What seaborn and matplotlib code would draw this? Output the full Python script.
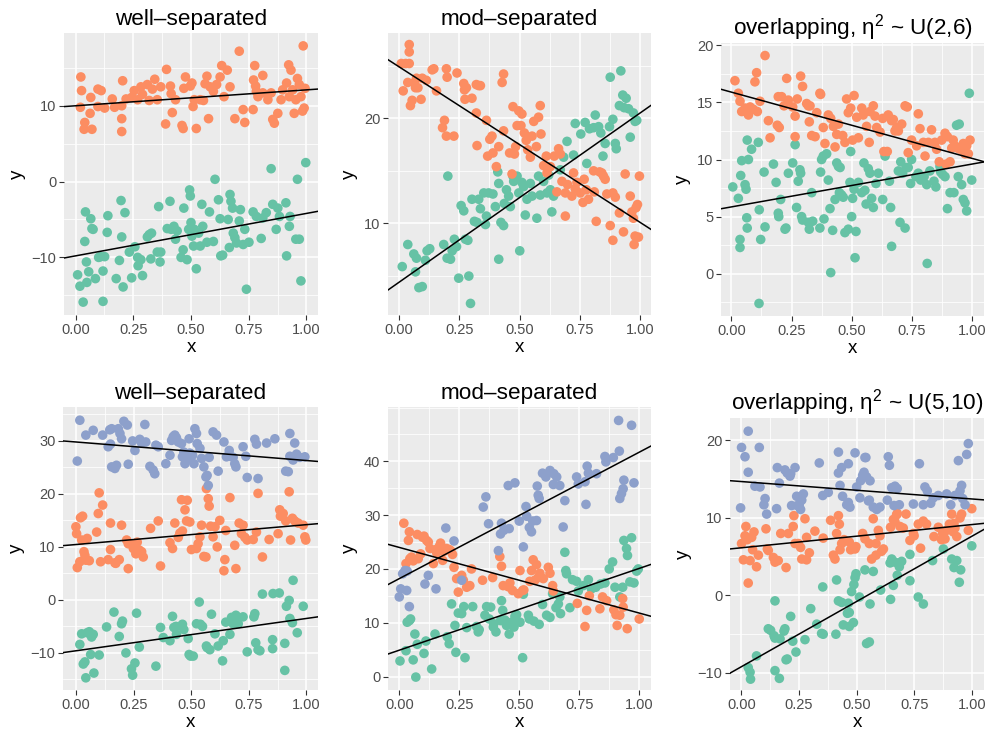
import numpy as np
import pandas as pd
import matplotlib
matplotlib.use('Agg')
import matplotlib.pyplot as plt
from matplotlib.ticker import AutoMinorLocator
import seaborn as sns

plt.rcParams['font.family'] = ['Liberation Sans', 'DejaVu Sans']
plt.rcParams['axes.unicode_minus'] = True

GREEN, ORANGE, BLUE = "#66C2A5", "#FC8D62", "#8DA0CB"

# ---- panel 1: well-separated, 2 groups
p1_green = [(0.009,-12.3),(0.019,-13.8),(0.033,-15.9),(0.043,-4.0),(0.040,-7.9),(0.047,-10.6),(0.049,-13.3),
    (0.057,-11.9),(0.066,-4.9),(0.071,-6.2),(0.076,-6.3),(0.086,-12.8),(0.100,-10.0),(0.109,-9.9),(0.119,-15.8),
    (0.119,-11.8),(0.126,-9.9),(0.137,-6.7),(0.140,-4.5),(0.176,-12.8),(0.190,-10.4),(0.197,-2.5),(0.200,-7.3),
    (0.206,-13.9),(0.214,-4.1),(0.233,-9.3),(0.243,-12.7),(0.257,-8.6),(0.269,-10.0),(0.271,-11.1),(0.283,-10.3),
    (0.290,-12.4),(0.311,-7.3),(0.319,-7.0),(0.326,-10.2),(0.329,-6.8),(0.354,-9.3),(0.360,-3.3),(0.366,-10.6),
    (0.369,-9.3),(0.397,-6.2),(0.409,-2.6),(0.414,-6.3),(0.426,-5.9),(0.433,-7.6),(0.440,-6.5),(0.457,-10.0),
    (0.466,-9.0),(0.469,-3.5),(0.483,-10.3),(0.490,-6.3),(0.494,-1.1),(0.497,-1.9),(0.500,-5.4),(0.504,-7.2),
    (0.511,-8.5),(0.514,-6.3),(0.523,-11.5),(0.533,-6.8),(0.540,-8.5),(0.547,-3.0),(0.551,-5.9),(0.569,-8.0),
    (0.580,-4.0),(0.597,-7.9),(0.604,0.3),(0.619,-2.4),(0.626,-4.9),(0.629,-9.8),(0.637,-9.7),(0.661,-5.0),
    (0.666,-8.7),(0.669,-1.7),(0.673,-2.6),(0.680,-3.5),(0.683,-6.8),(0.690,-7.4),(0.697,-8.1),(0.709,-5.2),
    (0.714,-3.7),(0.726,-8.3),(0.733,-6.3),(0.740,-14.2),(0.751,-8.0),(0.769,-4.0),(0.783,-4.6),(0.804,-7.5),
    (0.811,-4.8),(0.826,-4.1),(0.847,1.7),(0.854,-3.0),(0.869,-6.3),(0.876,-3.5),(0.883,-4.6),(0.911,-2.8),
    (0.914,-9.8),(0.926,-5.9),(0.929,-4.6),(0.954,-7.6),(0.969,-7.6),(0.976,-13.1),(0.961,0.3),(0.997,2.5)]
p1_orange = [(0.023,13.8),(0.026,12.0),(0.021,9.8),(0.040,7.8),(0.037,6.9),(0.066,11.1),(0.063,9.0),(0.071,6.9),
    (0.097,12.2),(0.111,12.0),(0.097,9.9),(0.126,9.7),(0.159,10.9),(0.169,9.8),(0.200,10.0),(0.204,13.3),
    (0.200,8.3),(0.200,6.6),(0.219,10.9),(0.243,11.1),(0.254,12.0),(0.269,10.8),(0.283,12.5),(0.290,11.5),
    (0.311,12.8),(0.319,10.7),(0.333,12.2),(0.343,13.5),(0.354,10.8),(0.369,12.5),(0.390,7.6),(0.394,14.8),
    (0.411,12.6),(0.414,11.6),(0.419,9.1),(0.433,10.8),(0.461,7.4),(0.466,7.0),(0.469,12.3),(0.476,13.8),
    (0.497,12.6),(0.504,13.0),(0.509,9.9),(0.514,10.8),(0.523,7.0),(0.540,10.8),(0.554,10.7),(0.561,12.9),
    (0.569,13.9),(0.576,8.3),(0.583,12.5),(0.597,11.9),(0.611,12.8),(0.626,13.8),(0.633,15.3),(0.643,11.2),
    (0.657,14.7),(0.669,12.5),(0.690,8.3),(0.709,17.2),(0.726,9.5),(0.733,7.8),(0.769,9.5),(0.776,15.3),
    (0.771,13.4),(0.780,12.6),(0.783,11.9),(0.790,11.2),(0.811,14.0),(0.811,11.7),(0.833,10.8),(0.847,11.7),
    (0.854,8.2),(0.861,7.7),(0.876,9.0),(0.890,10.8),(0.897,12.1),(0.914,13.0),(0.923,15.4),(0.926,11.2),
    (0.933,14.7),(0.940,12.1),(0.947,9.0),(0.954,10.8),(0.961,13.6),(0.969,12.8),(0.976,11.2),(0.983,9.3),
    (0.986,17.9),(0.990,9.7),(0.994,12.3)]

# ---- panel 2: mod-separated, 2 groups
p2_green = [(0.014,5.9),(0.037,8.0),(0.062,7.1),(0.069,5.4),(0.073,6.7),(0.083,3.9),(0.097,4.0),(0.110,6.5),
    (0.117,7.4),(0.128,7.6),(0.186,8.0),(0.200,6.7),(0.203,14.5),(0.214,6.6),(0.221,7.4),(0.230,8.5),(0.239,7.8),
    (0.248,4.8),(0.258,11.7),(0.269,11.2),(0.276,8.5),(0.286,8.4),(0.290,5.0),(0.297,2.4),(0.303,12.3),
    (0.313,10.2),(0.324,10.1),(0.331,12.3),(0.338,11.4),(0.352,12.9),(0.359,9.9),(0.363,10.7),(0.372,12.9),
    (0.390,12.8),(0.400,11.6),(0.410,14.9),(0.414,13.8),(0.414,6.6),(0.423,10.1),(0.434,9.8),(0.437,11.9),
    (0.446,13.2),(0.455,12.6),(0.462,11.6),(0.473,14.5),(0.476,14.0),(0.490,14.5),(0.497,12.9),(0.501,7.4),
    (0.510,13.9),(0.517,13.5),(0.524,10.8),(0.531,12.3),(0.545,13.8),(0.552,12.6),(0.572,10.5),(0.579,14.5),
    (0.586,12.7),(0.600,14.0),(0.614,12.9),(0.621,14.6),(0.628,13.2),(0.634,11.1),(0.641,12.6),(0.669,15.1),
    (0.683,16.3),(0.697,17.8),(0.724,16.5),(0.731,19.5),(0.754,18.5),(0.772,19.6),(0.779,15.7),(0.790,19.0),
    (0.807,19.1),(0.814,20.3),(0.828,19.2),(0.837,18.6),(0.846,16.4),(0.855,17.6),(0.873,19.2),(0.876,23.9),
    (0.887,19.9),(0.897,17.6),(0.901,17.1),(0.914,21.2),(0.920,24.5),(0.928,22.2),(0.934,21.0),(0.942,21.9),
    (0.952,20.9),(0.959,18.2),(0.972,20.5),(0.979,19.7),(0.986,19.8)]
p2_orange = [(0.010,25.2),(0.018,22.6),(0.028,25.2),(0.037,23.4),(0.043,27.0),(0.043,26.3),(0.043,25.2),
    (0.048,21.2),(0.055,21.7),(0.065,23.4),(0.069,22.9),(0.073,23.8),(0.079,22.9),(0.092,21.8),(0.097,23.8),
    (0.114,23.6),(0.138,24.6),(0.145,24.7),(0.156,22.6),(0.181,19.1),(0.189,19.8),(0.197,24.7),(0.200,23.9),
    (0.197,18.3),(0.228,18.3),(0.241,24.3),(0.269,23.3),(0.272,22.7),(0.274,21.8),(0.280,22.9),(0.303,21.9),
    (0.321,23.2),(0.324,17.4),(0.331,23.1),(0.321,20.5),(0.338,23.1),(0.363,19.8),(0.368,16.4),(0.377,18.0),
    (0.386,18.3),(0.390,16.7),(0.404,15.4),(0.414,17.3),(0.428,23.4),(0.434,24.2),(0.434,18.8),(0.459,16.7),
    (0.469,14.7),(0.473,21.1),(0.479,16.6),(0.484,17.3),(0.490,19.3),(0.497,20.7),(0.506,19.3),(0.510,20.4),
    (0.520,18.6),(0.528,17.9),(0.534,17.0),(0.545,16.3),(0.552,18.3),(0.559,19.7),(0.570,17.3),(0.579,20.1),
    (0.586,21.2),(0.589,18.5),(0.600,15.5),(0.611,16.4),(0.614,14.8),(0.628,15.4),(0.644,16.4),(0.655,13.0),
    (0.662,17.1),(0.669,16.6),(0.676,14.0),(0.690,10.7),(0.690,12.9),(0.699,13.7),(0.717,12.6),(0.724,14.8),
    (0.731,13.3),(0.738,13.9),(0.752,12.9),(0.763,12.0),(0.768,14.2),(0.777,13.2),(0.786,12.3),(0.807,15.0),
    (0.810,13.0),(0.818,10.2),(0.832,14.9),(0.841,14.8),(0.848,14.5),(0.855,14.2),(0.862,12.8),(0.876,9.8),
    (0.887,12.9),(0.887,8.4),(0.897,12.5),(0.914,11.0),(0.931,9.2),(0.938,14.7),(0.959,12.6),(0.966,11.1),
    (0.972,10.5),(0.975,8.0),(0.979,8.8),(0.983,11.5),(0.989,11.8),(0.993,8.7),(0.997,14.5)]

# ---- panel 3: overlapping, 2 groups
p3_green = [(0.006,7.6),(0.029,6.6),(0.036,3.0),(0.036,2.3),(0.039,8.6),(0.043,9.9),(0.057,7.8),(0.061,7.4),
    (0.064,4.9),(0.066,4.0),(0.071,10.0),(0.066,11.7),(0.084,10.9),(0.112,11.5),(0.116,5.6),(0.122,3.0),
    (0.115,-2.6),
    (0.136,8.9),(0.140,4.1),(0.175,9.6),(0.186,8.0),(0.195,5.3),(0.197,5.0),(0.205,6.5),(0.223,3.9),(0.227,4.0),
    (0.237,8.8),(0.255,9.7),(0.265,11.3),(0.271,5.8),(0.278,8.1),(0.285,9.1),(0.288,8.8),(0.292,5.0),(0.296,4.7),
    (0.320,4.5),(0.324,3.9),(0.334,7.1),(0.338,4.6),(0.368,4.0),(0.371,8.9),(0.375,10.0),(0.382,10.3),
    (0.385,4.8),(0.396,10.5),(0.403,8.2),(0.410,5.7),(0.413,0.1),(0.421,3.8),(0.431,6.5),(0.438,9.7),(0.445,9.4),
    (0.449,7.1),(0.452,9.3),(0.458,6.9),(0.465,6.7),(0.472,3.6),(0.486,3.9),(0.500,5.0),(0.496,10.7),(0.493,8.0),
    (0.504,6.6),(0.510,7.4),(0.514,1.4),(0.518,3.7),(0.528,8.0),(0.542,7.1),(0.551,9.7),(0.555,7.3),(0.560,6.1),
    (0.569,9.2),(0.576,8.8),(0.583,6.6),(0.590,5.8),(0.601,7.9),(0.611,8.8),(0.629,6.5),(0.639,10.3),(0.657,8.1),
    (0.662,5.8),(0.666,2.4),(0.694,9.0),(0.701,4.5),(0.704,9.8),(0.712,8.8),(0.722,4.0),(0.726,9.3),(0.735,9.3),
    (0.745,7.9),(0.749,10.0),(0.767,8.5),(0.777,8.8),(0.787,8.2),(0.801,8.5),(0.812,7.8),(0.814,0.9),(0.825,9.0),
    (0.842,8.1),(0.850,7.6),(0.867,9.4),(0.870,8.9),(0.878,8.7),(0.888,8.5),(0.898,5.7),(0.909,7.1),(0.925,7.1),
    (0.936,13.0),(0.943,8.5),(0.947,13.1),(0.957,7.8),(0.964,6.5),(0.971,6.2),(0.978,5.5),(0.989,15.8),(0.999,8.2)]
p3_orange = [(0.015,16.9),(0.029,15.8),(0.036,15.1),(0.043,14.2),(0.057,14.5),(0.066,14.1),(0.071,13.9),
    (0.078,14.6),(0.091,14.4),(0.098,16.8),(0.105,17.6),(0.108,14.2),(0.119,15.1),(0.140,19.1),(0.154,13.4),
    (0.161,11.9),(0.191,13.0),(0.195,15.5),(0.199,12.8),(0.209,15.5),(0.219,14.7),(0.230,17.1),(0.237,15.2),
    (0.255,14.6),(0.265,12.0),(0.265,13.8),(0.274,15.3),(0.288,17.3),(0.296,16.4),(0.313,14.9),(0.320,14.7),
    (0.327,14.7),(0.324,13.3),(0.334,12.1),(0.348,12.0),(0.355,14.1),(0.368,15.8),(0.371,15.7),(0.382,12.8),
    (0.389,11.4),(0.403,13.9),(0.413,13.6),(0.424,12.9),(0.431,11.1),(0.438,12.2),(0.445,13.1),(0.463,12.1),
    (0.472,11.5),(0.479,15.3),(0.486,14.1),(0.496,14.5),(0.504,11.7),(0.510,15.6),(0.521,13.7),(0.528,11.9),
    (0.542,14.5),(0.548,13.9),(0.562,12.9),(0.573,11.5),(0.576,14.2),(0.590,14.7),(0.597,13.8),(0.604,12.8),
    (0.618,12.4),(0.629,13.6),(0.634,10.7),(0.648,10.7),(0.652,13.9),(0.666,13.4),(0.673,13.5),(0.680,12.5),
    (0.687,12.8),(0.694,12.5),(0.708,13.1),(0.722,14.7),(0.731,14.6),(0.735,10.6),(0.749,11.7),(0.770,11.2),
    (0.777,14.0),(0.784,12.7),(0.798,11.5),(0.805,10.3),(0.819,11.5),(0.832,12.6),(0.846,11.5),(0.853,10.9),
    (0.864,9.8),(0.874,11.7),(0.888,12.3),(0.892,9.6),(0.898,12.0),(0.909,9.8),(0.916,11.0),(0.922,11.7),
    (0.929,11.2),(0.939,11.0),(0.950,10.9),(0.964,11.4),(0.971,10.5),(0.978,11.2),(0.985,10.5),(0.992,11.7)]

# ---- panel 4: well-separated, 3 groups
p4_green = [(0.017,-8.4),(0.025,-6.4),(0.032,-12.1),(0.039,-11.7),(0.043,-14.7),(0.049,-6.2),(0.058,-6.0),
    (0.068,-7.0),(0.075,-6.5),(0.064,-10.3),(0.078,-13.8),(0.101,-10.4),(0.133,-5.1),(0.165,-2.3),(0.188,-6.9),
    (0.198,-4.5),(0.202,-4.0),(0.217,-10.0),(0.241,-13.0),(0.246,-14.2),(0.256,-11.9),(0.263,-2.5),(0.275,-8.9),
    (0.347,-12.5),(0.367,-5.2),(0.379,-7.1),(0.408,-7.7),(0.419,-3.1),(0.425,-5.2),(0.434,-5.0),(0.436,-6.5),
    (0.462,-4.6),(0.468,-5.6),(0.487,-7.3),(0.491,-10.3),(0.497,-10.6),(0.509,-10.6),(0.523,-4.5),(0.535,-0.4),
    (0.540,-4.6),(0.549,-5.0),(0.566,-8.7),(0.569,-9.0),(0.581,-9.4),(0.588,-2.7),(0.603,-6.4),(0.617,-8.7),
    (0.636,-11.5),(0.639,-7.7),(0.650,-4.2),(0.668,-6.5),(0.675,-3.3),(0.682,-4.5),(0.694,-2.9),(0.704,-4.5),
    (0.725,-3.2),(0.743,-9.8),(0.772,-3.2),(0.776,-2.6),(0.780,-8.1),(0.790,-9.4),(0.798,-9.6),(0.809,1.1),
    (0.853,-7.5),(0.853,-9.2),(0.855,1.2),(0.882,1.3),(0.906,-8.2),(0.906,-13.3),(0.913,-1.2),(0.925,-0.1),
    (0.928,-3.5),(0.939,-4.3),(0.942,3.7),(0.960,-6.2),(0.986,-1.2)]
p4_orange = [(0.000,13.8),(0.003,12.5),(0.006,6.1),(0.017,7.2),(0.020,15.5),(0.029,15.8),(0.025,11.3),
    (0.035,9.1),(0.039,8.4),(0.043,7.5),(0.049,11.6),(0.058,7.4),(0.090,12.8),(0.097,16.3),(0.101,20.2),
    (0.107,7.2),(0.116,17.9),(0.140,7.6),(0.150,14.5),(0.150,9.5),(0.169,7.0),(0.173,6.9),(0.188,7.6),
    (0.198,14.1),(0.220,11.3),(0.227,5.9),(0.227,10.6),(0.241,10.6),(0.249,9.7),(0.260,8.7),(0.266,10.9),
    (0.275,9.4),(0.285,9.1),(0.292,8.1),(0.324,13.5),(0.357,14.9),(0.367,6.4),(0.408,10.8),(0.419,9.7),
    (0.429,14.5),(0.444,11.8),(0.451,12.6),(0.458,18.9),(0.462,13.0),(0.473,17.0),(0.480,14.9),(0.483,18.8),
    (0.494,14.7),(0.501,9.5),(0.523,9.7),(0.530,10.6),(0.538,11.9),(0.545,14.1),(0.555,8.2),(0.564,8.1),
    (0.566,21.0),(0.574,19.1),(0.578,17.7),(0.584,13.9),(0.595,11.9),(0.603,13.8),(0.613,10.0),(0.624,15.0),
    (0.642,5.5),(0.646,7.6),(0.650,13.1),(0.668,19.3),(0.689,10.3),(0.694,5.9),(0.708,14.5),(0.718,12.5),
    (0.725,14.1),(0.733,11.8),(0.743,11.3),(0.769,11.4),(0.783,12.8),(0.790,20.1),(0.809,8.1),(0.838,11.4),
    (0.877,12.5),(0.884,17.0),(0.887,15.8),(0.899,16.3),(0.910,14.9),(0.925,20.4),(0.931,11.3),(0.939,15.4),
    (0.949,14.9),(0.964,14.5),(0.986,14.1),(0.993,11.9),(0.997,11.3)]
p4_blue = [(0.006,26.2),(0.017,33.9),(0.043,31.1),(0.075,32.0),(0.116,31.1),(0.140,28.9),(0.147,32.1),
    (0.155,32.3),(0.150,29.4),(0.155,25.1),(0.169,24.8),(0.176,25.4),(0.184,32.3),(0.191,31.4),(0.198,30.4),
    (0.208,33.7),(0.223,33.0),(0.227,25.6),(0.246,30.0),(0.256,28.2),(0.277,30.3),(0.285,29.6),(0.299,33.1),
    (0.303,29.8),(0.321,25.2),(0.335,24.5),(0.342,23.8),(0.347,29.2),(0.357,28.9),(0.390,25.7),(0.408,27.3),
    (0.415,30.1),(0.422,30.8),(0.429,31.1),(0.436,30.6),(0.444,29.8),(0.458,29.5),(0.462,27.0),(0.468,27.9),
    (0.473,25.7),(0.480,26.4),(0.487,26.7),(0.491,30.4),(0.494,27.7),(0.506,27.3),(0.512,25.7),(0.516,32.3),
    (0.523,31.4),(0.526,29.5),(0.538,28.6),(0.545,26.7),(0.555,25.1),(0.564,23.2),(0.569,23.5),(0.574,21.6),
    (0.578,26.9),(0.595,31.7),(0.610,31.1),(0.617,24.3),(0.642,29.8),(0.653,27.0),(0.665,28.2),(0.671,27.1),
    (0.682,26.9),(0.689,25.7),(0.694,25.1),(0.725,28.9),(0.737,27.1),(0.743,23.1),(0.776,30.3),(0.783,29.4),
    (0.790,22.9),(0.827,29.6),(0.863,30.4),(0.910,24.3),(0.921,24.2),(0.928,31.4),(0.928,27.1),(0.942,26.4),
    (0.949,29.6),(0.957,27.5),(0.971,26.9),(0.993,27.0)]

# ---- panel 5: mod-separated, 3 groups
p5_green = [(0.003,2.9),(0.028,4.8),(0.033,10.1),(0.042,10.4),(0.047,10.7),(0.058,3.1),(0.065,7.9),(0.069,-0.1),
    (0.075,6.0),(0.103,4.3),(0.111,6.6),(0.135,1.4),(0.149,7.9),(0.200,7.4),(0.208,6.1),(0.218,13.5),(0.232,9.5),
    (0.236,4.5),(0.246,11.8),(0.260,11.7),(0.269,13.0),(0.274,3.5),(0.281,9.1),(0.306,13.0),(0.322,9.3),
    (0.329,8.3),(0.333,8.7),(0.357,11.4),(0.364,13.0),(0.375,10.7),(0.381,12.9),(0.392,9.2),(0.394,9.8),
    (0.403,8.3),(0.422,10.4),(0.426,14.1),(0.431,12.3),(0.433,10.4),(0.440,10.5),(0.447,9.5),(0.458,7.9),
    (0.468,10.1),(0.478,9.2),(0.482,11.2),(0.489,11.5),(0.503,10.1),(0.514,3.5),(0.517,15.3),(0.538,11.4),
    (0.542,10.7),(0.561,10.3),(0.583,9.7),(0.597,13.4),(0.614,11.4),(0.628,11.0),(0.639,15.4),(0.653,12.8),
    (0.663,13.5),(0.669,14.8),(0.672,11.7),(0.690,23.1),(0.694,19.7),(0.697,19.1),(0.711,12.8),(0.722,18.0),
    (0.739,17.7),(0.746,15.9),(0.767,16.9),(0.788,18.0),(0.801,16.3),(0.819,16.6),(0.839,17.2),(0.857,17.4),
    (0.875,20.0),(0.889,21.3),(0.899,16.6),(0.919,14.8),(0.931,16.6),(0.936,25.3),(0.947,23.8),(0.951,22.5),
    (0.961,17.6),(0.968,25.8),(0.978,17.4),(0.989,19.6),(0.996,20.0)]
p5_orange = [(0.019,28.5),(0.028,21.0),(0.038,25.3),(0.042,26.9),(0.044,21.9),(0.051,22.2),(0.058,21.5),
    (0.075,26.4),(0.079,21.9),(0.089,22.8),(0.097,25.9),(0.103,26.1),(0.114,25.3),(0.121,25.0),(0.128,23.8),
    (0.142,21.0),(0.153,23.6),(0.156,23.0),(0.167,24.2),(0.172,24.8),(0.181,21.6),(0.186,23.3),(0.197,23.8),
    (0.208,23.6),(0.214,23.4),(0.222,22.7),(0.228,20.3),(0.246,15.7),(0.239,18.2),(0.260,18.8),(0.267,17.9),
    (0.281,16.6),(0.294,16.9),(0.301,20.0),(0.347,17.9),(0.389,18.4),(0.419,22.3),(0.426,20.5),(0.433,16.9),
    (0.454,16.7),(0.461,17.4),(0.472,16.0),(0.496,15.4),(0.503,19.7),(0.514,16.0),(0.519,16.1),(0.544,17.7),
    (0.551,19.7),(0.558,21.7),(0.565,17.9),(0.572,20.8),(0.579,18.4),(0.586,19.2),(0.600,18.2),(0.621,20.3),
    (0.628,19.2),(0.639,16.9),(0.642,15.9),(0.742,13.6),(0.774,9.3),(0.781,12.3),(0.792,15.0),(0.836,12.6),
    (0.847,14.8),(0.864,14.1),(0.894,12.4),(0.903,11.5),(0.908,9.5),(0.919,11.4),(0.933,12.9),(0.931,14.5),
    (0.950,8.9),(1.000,10.7)]
p5_blue = [(0.000,14.8),(0.006,16.3),(0.014,19.1),(0.024,19.7),(0.031,16.0),(0.033,19.6),(0.042,13.0),
    (0.107,17.2),(0.121,18.8),(0.153,16.3),(0.194,27.6),(0.228,25.2),(0.260,17.9),(0.350,31.5),(0.361,33.4),
    (0.372,28.4),(0.413,23.4),(0.422,26.5),(0.426,28.5),(0.436,27.2),(0.458,27.5),(0.454,35.5),(0.482,36.0),
    (0.500,28.9),(0.517,24.1),(0.528,31.6),(0.531,29.8),(0.542,27.7),(0.551,26.9),(0.556,28.9),(0.572,29.0),
    (0.575,35.4),(0.579,33.7),(0.583,33.1),(0.597,37.8),(0.611,37.1),(0.628,38.3),(0.642,35.7),(0.644,37.7),
    (0.656,37.1),(0.669,35.5),(0.683,27.8),(0.690,32.7),(0.739,37.1),(0.746,35.8),(0.774,36.2),(0.778,32.0),
    (0.783,39.1),(0.788,37.8),(0.822,37.7),(0.857,40.9),(0.861,39.9),(0.892,40.7),(0.914,47.6),(0.917,41.9),
    (0.919,33.1),(0.926,34.0),(0.933,34.9),(0.936,36.5),(0.968,46.7),(0.978,36.0)]

# ---- panel 6: overlapping, 3 groups
p6_green = [(0.030,-9.3),(0.038,-9.9),(0.040,-10.8),(0.066,-7.8),(0.146,-0.7),(0.117,-4.3),(0.127,-4.5),
    (0.142,-5.2),(0.146,-5.5),(0.146,-9.7),(0.168,-5.6),(0.165,-10.7),(0.185,-4.6),(0.189,-4.3),(0.194,-8.3),
    (0.199,-8.2),(0.214,-2.7),(0.223,-5.9),(0.237,-7.3),(0.276,-5.7),(0.301,-1.7),(0.327,-3.7),(0.348,-4.9),
    (0.353,1.1),(0.355,-5.0),(0.410,-5.0),(0.413,2.0),(0.421,-0.7),(0.435,-0.9),(0.442,-3.8),(0.460,-2.3),
    (0.464,-1.0),(0.468,-2.2),(0.468,-4.0),(0.478,0.5),(0.486,-3.5),(0.488,1.4),(0.493,2.3),(0.497,2.8),
    (0.512,-0.2),(0.536,3.3),(0.543,-6.2),(0.555,-6.0),(0.558,-1.1),(0.572,3.1),(0.604,0.7),(0.645,4.2),
    (0.647,-0.5),(0.652,4.7),(0.659,1.3),(0.666,4.3),(0.676,2.6),(0.685,3.7),(0.695,4.4),(0.731,5.3),(0.731,1.9),
    (0.767,-0.2),(0.789,-1.1),(0.829,4.5),(0.876,6.0),(0.912,4.7),(0.922,3.6),(0.934,4.5),(0.945,1.7),
    (0.951,3.3),(0.999,6.4)]
p6_orange = [(0.001,6.7),(0.009,4.6),(0.016,7.7),(0.020,8.9),(0.026,7.2),(0.030,1.6),(0.038,4.5),(0.045,7.5),
    (0.049,5.9),(0.055,8.2),(0.066,3.7),(0.074,5.2),(0.107,8.6),(0.113,6.0),(0.117,5.8),(0.139,4.9),(0.146,4.3),
    (0.160,4.5),(0.171,8.0),(0.194,3.6),(0.204,8.0),(0.225,8.9),(0.228,10.3),(0.233,6.7),(0.247,6.7),(0.257,6.2),
    (0.262,4.7),(0.276,9.9),(0.283,7.5),(0.283,4.6),(0.295,5.5),(0.319,8.3),(0.355,7.4),(0.387,9.7),(0.399,5.2),
    (0.406,4.7),(0.413,8.0),(0.421,10.3),(0.425,9.2),(0.428,5.9),(0.435,6.7),(0.445,7.2),(0.468,6.9),(0.474,5.9),
    (0.493,6.0),(0.497,6.3),(0.526,8.0),(0.536,7.3),(0.555,6.7),(0.565,4.7),(0.572,9.9),(0.584,5.2),(0.584,6.7),
    (0.594,8.4),(0.601,7.7),(0.608,5.7),(0.616,6.0),(0.647,8.8),(0.659,9.8),(0.666,9.5),(0.673,10.4),(0.676,10.6),
    (0.688,8.9),(0.702,8.7),(0.714,10.5),(0.731,7.1),(0.746,8.0),(0.749,7.7),(0.767,9.2),(0.777,6.1),(0.789,9.6),
    (0.803,9.2),(0.835,7.6),(0.854,8.8),(0.868,7.2),(0.873,8.0),(0.883,7.3),(0.890,8.4),(0.902,9.2),(0.912,10.5),
    (0.919,8.2),(0.922,9.3),(0.926,8.7),(0.934,7.6),(0.948,10.0),(0.955,10.5),(0.984,8.4),(0.999,11.2)]
p6_blue = [(-0.003,11.3),(0.001,19.1),(0.016,17.9),(0.030,21.2),(0.030,15.9),(0.059,14.1),(0.078,19.1),
    (0.081,14.0),(0.098,11.7),(0.103,12.5),(0.110,10.5),(0.153,11.2),(0.156,16.5),(0.165,14.5),(0.189,16.2),
    (0.199,15.8),(0.211,15.4),(0.214,15.7),(0.218,11.6),(0.233,16.5),(0.240,12.8),(0.243,11.6),(0.251,11.7),
    (0.257,11.1),(0.262,12.3),(0.269,13.1),(0.338,17.1),(0.353,12.9),(0.377,13.3),(0.421,18.5),(0.421,15.8),
    (0.428,14.2),(0.435,16.5),(0.439,12.8),(0.457,11.7),(0.464,12.0),(0.471,11.4),(0.464,17.0),(0.493,18.4),
    (0.500,14.0),(0.514,12.6),(0.517,14.8),(0.526,15.5),(0.532,15.9),(0.536,17.8),(0.540,17.8),(0.543,15.3),
    (0.551,12.2),(0.558,14.8),(0.555,12.3),(0.572,11.4),(0.587,11.1),(0.601,11.4),(0.633,12.3),(0.637,17.9),
    (0.642,16.8),(0.652,13.9),(0.662,11.6),(0.666,14.1),(0.676,13.8),(0.685,11.7),(0.746,11.8),(0.772,17.0),
    (0.789,11.7),(0.796,14.0),(0.806,13.5),(0.821,11.9),(0.832,12.6),(0.854,12.9),(0.890,13.1),(0.908,11.7),
    (0.926,12.9),(0.941,17.4),(0.948,13.5),(0.955,14.2),(0.960,12.5),(0.970,11.7),(0.977,18.2),(0.984,19.6)]

# fitted lines per group: (intercept, slope)
p1_lines = [(-9.8, 5.6), (10.0, 2.1)]
p2_lines = [(4.4, 16.1), (24.9, -14.8)]
p3_lines = [(5.85, 3.75), (15.9, -5.8)]
p4_lines = [(-9.6, 6.1), (10.45, 3.75), (29.8, -3.5)]
p5_lines = [(4.9, 15.2), (24.0, -12.2), (18.2, 23.5)]
p6_lines = [(-9.2, 16.85), (6.15, 3.0), (14.7, -2.25)]

titles = ["well\u2013separated", "mod\u2013separated", r"overlapping, $\mathregular{\eta^2}$ ~ U(2,6)",
          "well\u2013separated", "mod\u2013separated", r"overlapping, $\mathregular{\eta^2}$ ~ U(5,10)"]
y_ticks = [[-10, 0, 10], [10, 20], [0, 5, 10, 15, 20],
           [-10, 0, 10, 20, 30], [0, 10, 20, 30, 40], [-10, 0, 10, 20]]
y_lims = [(-17.6, 19.6), (1.3, 28.1), (-3.7, 20.2), (-17.0, 36.4), (-2.5, 50.1), (-12.2, 22.9)]
x_lims = [(-0.05, 1.05), (-0.045, 1.045), (-0.043, 1.05), (-0.056, 1.05), (-0.047, 1.049), (-0.049, 1.052)]
x_ticks = [0, 0.25, 0.5, 0.75, 1.0]

panels = [
    ([p1_green, p1_orange], p1_lines),
    ([p2_green, p2_orange], p2_lines),
    ([p3_green, p3_orange], p3_lines),
    ([p4_green, p4_orange, p4_blue], p4_lines),
    ([p5_green, p5_orange, p5_blue], p5_lines),
    ([p6_green, p6_orange, p6_blue], p6_lines),
]
group_names = ["g1", "g2", "g3"]
palette = {"g1": GREEN, "g2": ORANGE, "g3": BLUE}

# panel boxes in pixels: left, top, right, bottom
boxes = [(64, 33, 318, 315), (388, 33, 651, 315), (721, 43, 984, 316),
         (63, 407, 318, 690), (388, 407, 651, 690), (730, 418, 984, 690)]
W, H = 990, 734

fig = plt.figure(figsize=(W / 100, H / 100), dpi=100)

for i, (groups, lines) in enumerate(panels):
    l, t, r, b = boxes[i]
    ax = fig.add_axes([l / W, 1 - b / H, (r - l) / W, (b - t) / H])
    ax.set_facecolor("#EBEBEB")
    ax.set_axisbelow(True)

    frames = []
    for name, pts in zip(group_names, groups):
        d = pd.DataFrame(pts, columns=["x", "y"])
        d["group"] = name
        frames.append(d)
    df = pd.concat(frames, ignore_index=True)

    sns.scatterplot(data=df, x="x", y="y", hue="group", palette=palette, s=48,
                    linewidth=0, alpha=1, legend=False, ax=ax, zorder=2)
    for a, m in lines:
        ax.axline((0, a), slope=m, color="black", lw=1.1, zorder=3)

    ax.set_xlim(*x_lims[i])
    ax.set_ylim(*y_lims[i])
    ax.set_xticks(x_ticks)
    ax.set_xticklabels(["0.00", "0.25", "0.50", "0.75", "1.00"])
    ax.set_yticks(y_ticks[i])
    ax.xaxis.set_minor_locator(AutoMinorLocator(2))
    ax.yaxis.set_minor_locator(AutoMinorLocator(2))
    ax.grid(which="major", color="white", lw=1.1)
    ax.grid(which="minor", color="white", lw=0.55)
    ax.tick_params(which="major", length=3.5, width=0.8, color="#333333",
                   labelcolor="#4D4D4D", labelsize=10.5, pad=2)
    ax.tick_params(which="minor", length=0)
    for s in ax.spines.values():
        s.set_visible(False)
    ax.set_xlabel("x", fontsize=13.5, labelpad=2)
    ax.set_ylabel("y", fontsize=13.5, labelpad=4)
    ax.set_title(titles[i], fontsize=16.2, pad=6)

fig.savefig("out.png", dpi=100)
